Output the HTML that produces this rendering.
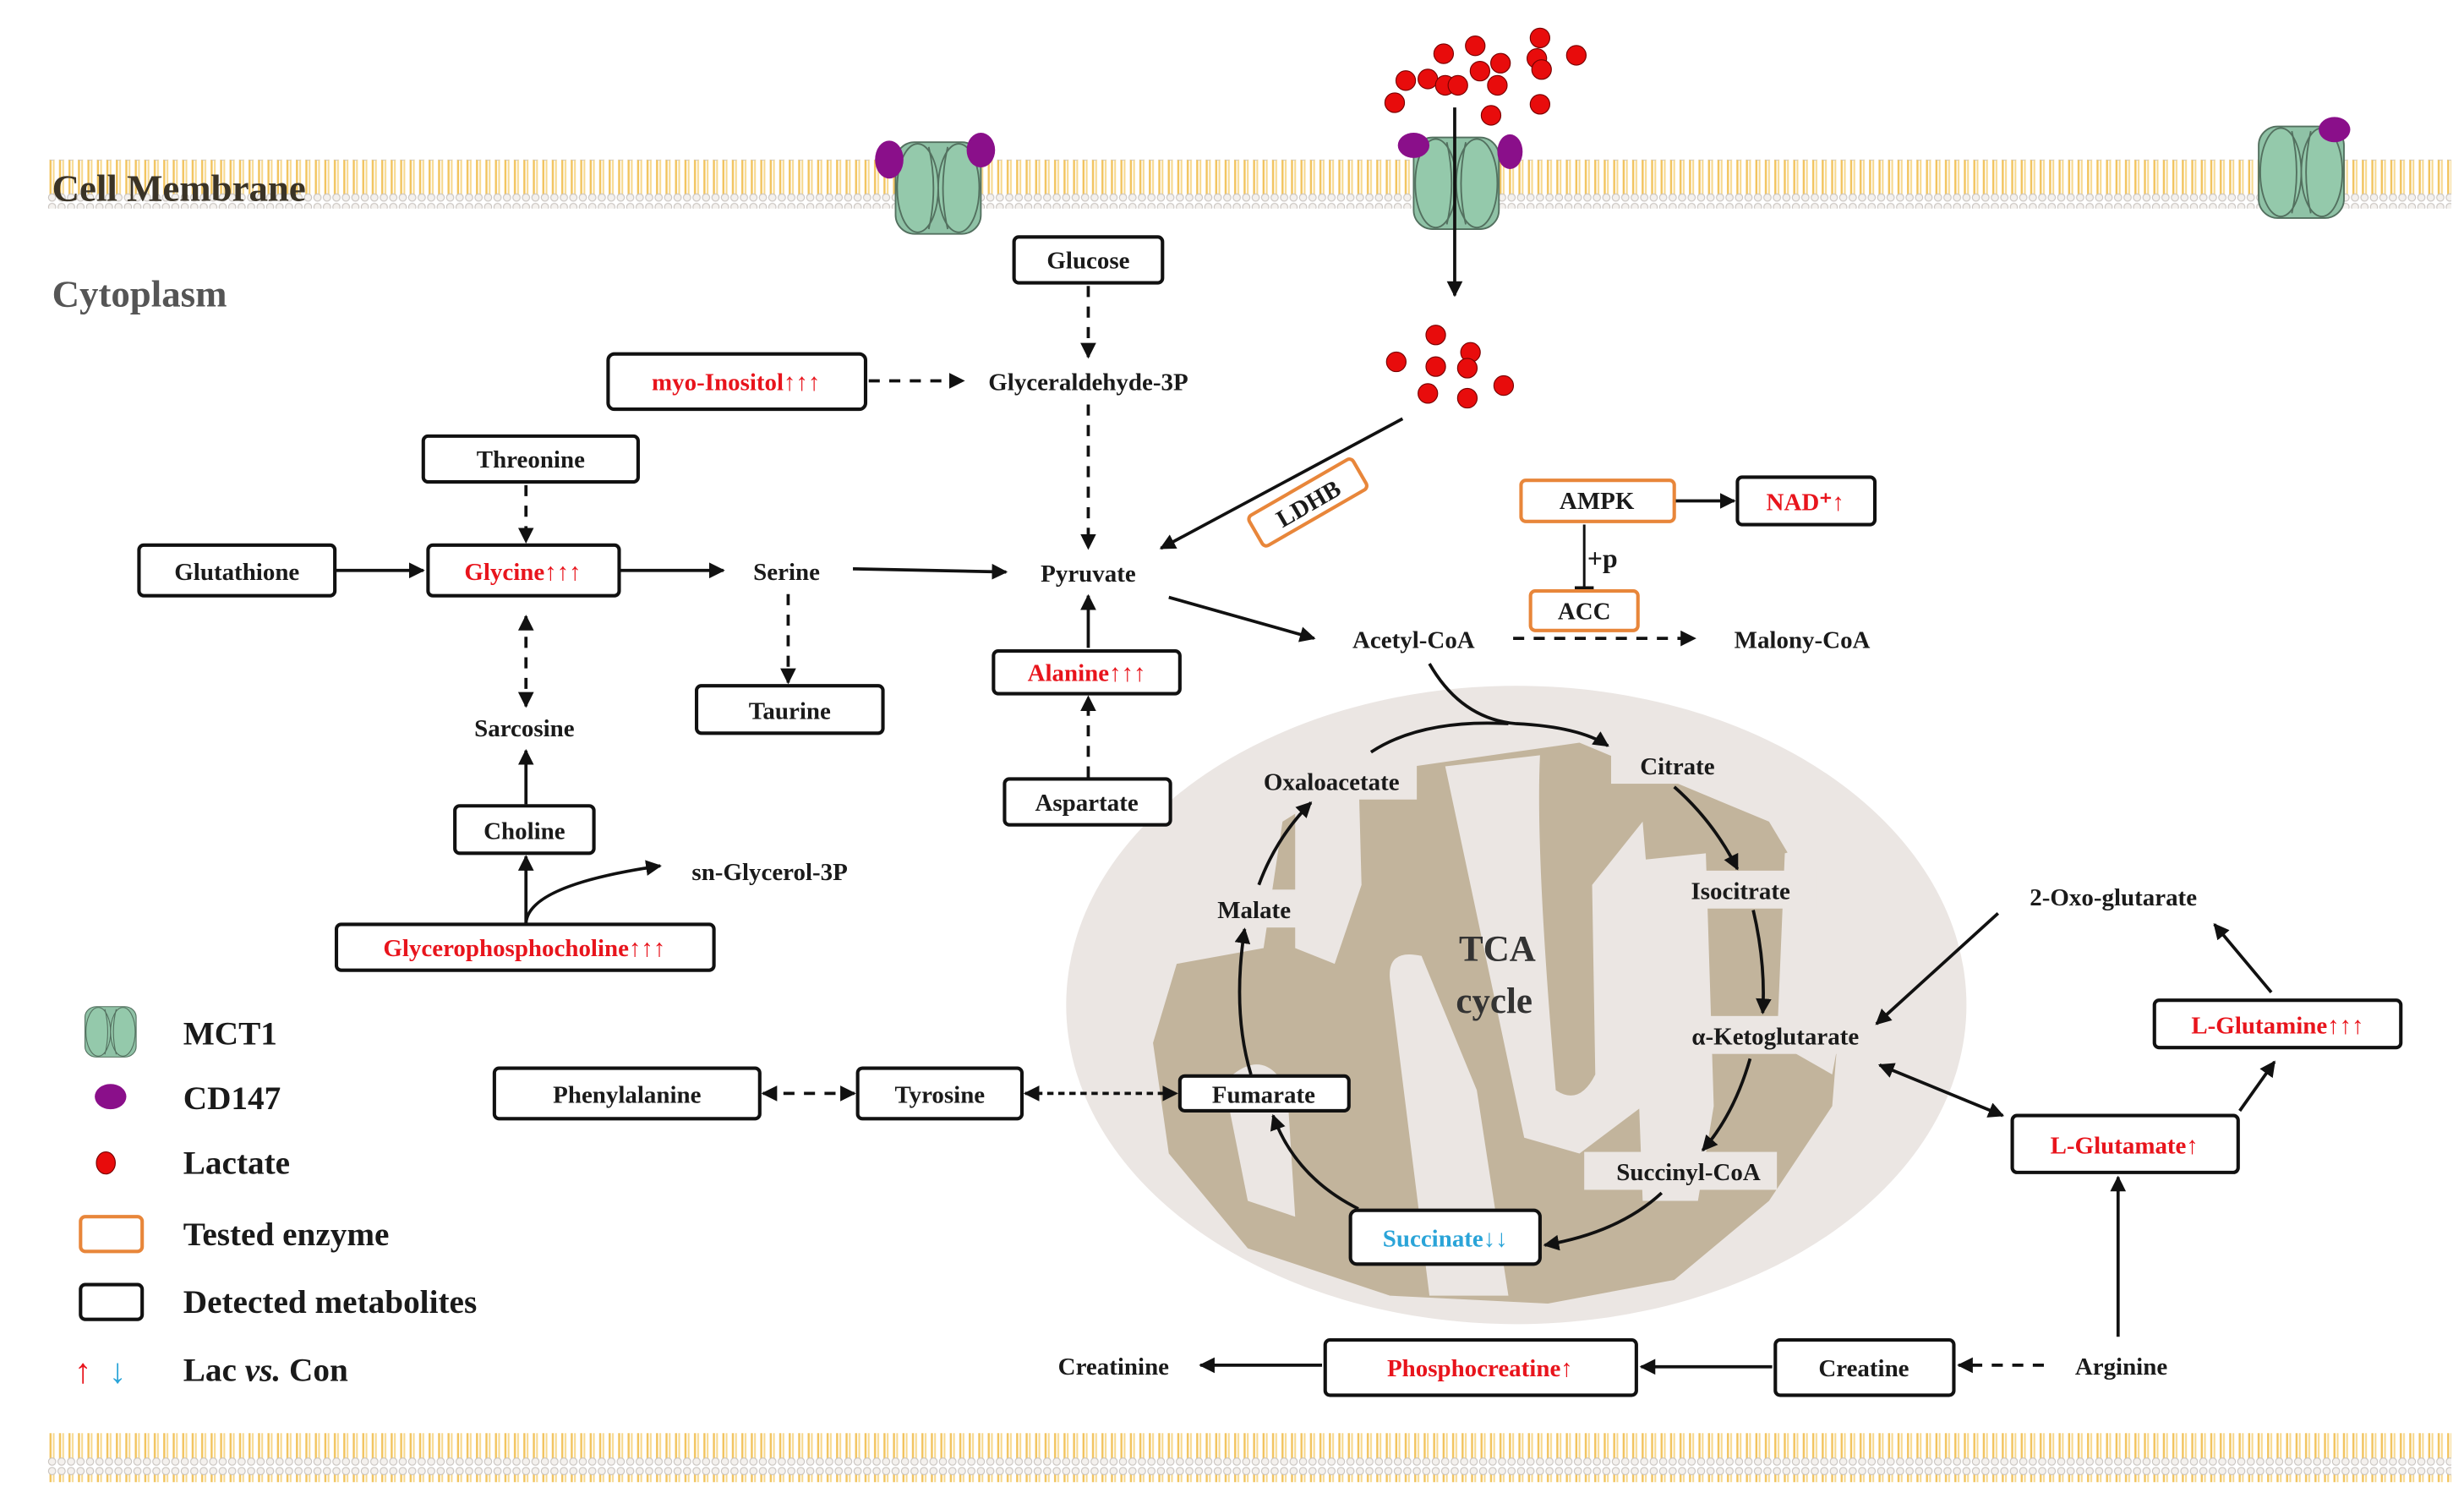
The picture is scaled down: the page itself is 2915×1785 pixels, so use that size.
<!DOCTYPE html>
<html><head><meta charset="utf-8"><style>
html,body{margin:0;padding:0;background:#fff;}
svg{display:block;}
text{font-family:"Liberation Serif",serif;font-weight:bold;}
</style></head><body>
<svg width="2915" height="1785" viewBox="0 0 1560 955" preserveAspectRatio="none" xmlns="http://www.w3.org/2000/svg">
<defs>
<marker id="a" viewBox="0 0 10 10" refX="9" refY="5" markerWidth="5" markerHeight="5" orient="auto-start-reverse"><path d="M0,0L10,5L0,10z" fill="#111"/></marker>
<pattern id="mem" x="0" y="0" width="6" height="32" patternUnits="userSpaceOnUse">
<line x1="2" y1="4" x2="2" y2="28" stroke="#f2c45e" stroke-width="1.3"/>
<line x1="4" y1="4" x2="4" y2="28" stroke="#f7d98e" stroke-width="1.1"/>
<circle cx="3" cy="3" r="2.3" fill="#f4f1ee" stroke="#c9c4c0" stroke-width="0.6"/>
<circle cx="3" cy="29" r="2.3" fill="#f4f1ee" stroke="#c9c4c0" stroke-width="0.6"/>
</pattern>
<g id="ch">
<rect x="-27" y="-29" width="54" height="58" rx="12" fill="#8fc2a6" stroke="#53705f" stroke-width="1"/>
<ellipse cx="-13" cy="0" rx="13" ry="28" fill="#94c9ab" stroke="#53705f" stroke-width="1"/>
<ellipse cx="13" cy="0" rx="13" ry="28" fill="#94c9ab" stroke="#53705f" stroke-width="1"/>
<path d="M-6,-26 Q0,0 -6,26 M6,-26 Q0,0 6,26" fill="none" stroke="#53705f" stroke-width="1"/>
</g>
</defs>
<style>
.b{fill:#fff;stroke:#111;stroke-width:2.2;}
.o{fill:#fff;stroke:#e8863a;stroke-width:2.2;}
.t{font-size:15.5px;fill:#1a1a1a;}
.r{fill:#e8141c;}
.l{stroke:#111;stroke-width:2;fill:none;}
.d{stroke:#111;stroke-width:2;fill:none;stroke-dasharray:7,6;}
</style>

<!-- membranes -->
<rect x="30" y="101" width="1522" height="31" fill="url(#mem)"/>
<rect x="30" y="907" width="1522" height="31" fill="url(#mem)"/>
<text x="33" y="127" style="font-size:24px;fill:#3a3326">Cell Membrane</text>
<text x="33" y="194" style="font-size:24px;fill:#555">Cytoplasm</text>

<!-- channels -->
<use href="#ch" transform="translate(594,119)"/>
<ellipse cx="563" cy="101" rx="9" ry="12" fill="#8a0f8a"/>
<ellipse cx="621" cy="95" rx="9" ry="11" fill="#8a0f8a"/>
<use href="#ch" transform="translate(922,116)"/>
<ellipse cx="895" cy="92" rx="10" ry="8" fill="#8a0f8a"/>
<ellipse cx="956" cy="96" rx="8" ry="11" fill="#8a0f8a"/>
<use href="#ch" transform="translate(1457,109)"/>
<ellipse cx="1478" cy="82" rx="10" ry="8" fill="#8a0f8a"/>

<!-- lactate dots -->
<g fill="#e80c0c" stroke="#700" stroke-width="0.6">
<circle cx="890" cy="51" r="6.2"/><circle cx="904" cy="50" r="6.2"/><circle cx="915" cy="54" r="6.2"/><circle cx="923" cy="54" r="6.2"/>
<circle cx="883" cy="65" r="6.2"/><circle cx="914" cy="34" r="6.2"/><circle cx="934" cy="29" r="6.2"/><circle cx="937" cy="45" r="6.2"/>
<circle cx="950" cy="40" r="6.2"/><circle cx="948" cy="54" r="6.2"/><circle cx="944" cy="73" r="6.2"/><circle cx="975" cy="24" r="6.2"/>
<circle cx="973" cy="37" r="6.2"/><circle cx="976" cy="44" r="6.2"/><circle cx="998" cy="35" r="6.2"/><circle cx="975" cy="66" r="6.2"/>
<circle cx="909" cy="212" r="6.2"/><circle cx="884" cy="229" r="6.2"/><circle cx="909" cy="232" r="6.2"/><circle cx="931" cy="223" r="6.2"/>
<circle cx="929" cy="233" r="6.2"/><circle cx="952" cy="244" r="6.2"/><circle cx="904" cy="249" r="6.2"/><circle cx="929" cy="252" r="6.2"/>
</g>
<line x1="921" y1="68" x2="921" y2="187" class="l" marker-end="url(#a)"/>

<!-- LDHB -->
<line x1="888" y1="265" x2="735" y2="347" class="l" marker-end="url(#a)"/>
<g transform="translate(828,318) rotate(-30)">
<rect x="-38" y="-11" width="76" height="22" rx="3" class="o"/>
<text x="0" y="6" text-anchor="middle" class="t">LDHB</text>
</g>

<!-- mitochondrion -->
<ellipse cx="960" cy="636" rx="285" ry="202" fill="#ebe6e3"/>
<path d="M812,520 L860,490 L1000,470 L1120,520 L1168,600 L1160,700 L1120,760 L1060,810 L980,825 L880,820 L790,790 L740,730 L730,660 L745,610 L800,600 Z" fill="#c2b49c"/>
<g fill="#ebe6e3">
<path d="M880,620 Q878,600 900,605 L935,690 L955,820 L905,820 Z"/>
<path d="M915,485 L975,478 Q972,540 985,690 Q1000,700 1010,680 L1008,560 L1040,520 L1045,580 L1040,700 L1000,730 L965,720 Z"/>
<path d="M1032,545 L1080,540 L1085,700 L1075,760 L1040,760 Z"/>
<path d="M1130,540 L1168,530 L1175,600 L1160,680 L1125,660 Z"/>
<path d="M775,685 Q800,660 815,690 L820,770 L790,760 Z"/>
<path d="M820,500 L860,485 L862,560 L845,610 L820,600 Z"/>
</g>
<text x="948" y="608" text-anchor="middle" style="font-size:23px;fill:#333">TCA</text>
<text x="946" y="641" text-anchor="middle" style="font-size:23px;fill:#333">cycle</text>

<!-- TCA labels with light backgrounds -->
<g fill="#ebe6e3">
<rect x="1020" y="472" width="84" height="24"/><rect x="1058" y="551" width="92" height="24"/>
<rect x="1045" y="643" width="145" height="24"/><rect x="1003" y="729" width="122" height="24"/>
<rect x="760" y="563" width="68" height="24"/><rect x="793" y="482" width="104" height="24"/>
</g>
<text x="1062" y="490" text-anchor="middle" class="t">Citrate</text>
<text x="1102" y="569" text-anchor="middle" class="t">Isocitrate</text>
<text x="1124" y="661" text-anchor="middle" class="t">α-Ketoglutarate</text>
<text x="1069" y="747" text-anchor="middle" class="t">Succinyl-CoA</text>
<text x="794" y="581" text-anchor="middle" class="t">Malate</text>
<text x="843" y="500" text-anchor="middle" class="t">Oxaloacetate</text>
<rect x="747" y="681" width="107" height="22" rx="3" class="b"/>
<text x="800" y="698" text-anchor="middle" class="t">Fumarate</text>
<rect x="855" y="766" width="120" height="34" rx="4" class="b"/>
<text x="915" y="789" text-anchor="middle" class="t" style="fill:#2aa4d8">Succinate↓↓</text>

<!-- TCA arrows -->
<path d="M905,420 Q925,455 960,458 Q1000,460 1018,472" class="l" marker-end="url(#a)"/>
<path d="M868,476 Q900,455 955,458" class="l"/>
<path d="M1060,498 Q1085,520 1100,550" class="l" marker-end="url(#a)"/>
<path d="M1110,576 Q1118,610 1116,641" class="l" marker-end="url(#a)"/>
<path d="M1108,670 Q1098,705 1078,728" class="l" marker-end="url(#a)"/>
<path d="M1052,755 Q1025,780 978,788" class="l" marker-end="url(#a)"/>
<path d="M860,765 Q820,745 806,706" class="l" marker-end="url(#a)"/>
<path d="M792,680 Q780,640 788,588" class="l" marker-end="url(#a)"/>
<path d="M797,560 Q808,530 830,508" class="l" marker-end="url(#a)"/>

<!-- top pathway -->
<rect x="642" y="150" width="94" height="29" rx="3" class="b"/>
<text x="689" y="170" text-anchor="middle" class="t">Glucose</text>
<line x1="689" y1="181" x2="689" y2="226" class="d" marker-end="url(#a)"/>
<text x="689" y="247" text-anchor="middle" class="t">Glyceraldehyde-3P</text>
<line x1="689" y1="256" x2="689" y2="347" class="d" marker-end="url(#a)"/>
<text x="689" y="368" text-anchor="middle" class="t">Pyruvate</text>

<rect x="385" y="224" width="163" height="35" rx="4" class="b"/>
<text x="466" y="247" text-anchor="middle" class="t r">myo-Inositol↑↑↑</text>
<line x1="550" y1="241" x2="610" y2="241" class="d" marker-end="url(#a)"/>

<rect x="268" y="276" width="136" height="29" rx="3" class="b"/>
<text x="336" y="296" text-anchor="middle" class="t">Threonine</text>
<line x1="333" y1="307" x2="333" y2="343" class="d" marker-end="url(#a)"/>
<rect x="88" y="345" width="124" height="32" rx="3" class="b"/>
<text x="150" y="367" text-anchor="middle" class="t">Glutathione</text>
<line x1="213" y1="361" x2="268" y2="361" class="l" marker-end="url(#a)"/>
<rect x="271" y="345" width="121" height="32" rx="3" class="b"/>
<text x="331" y="367" text-anchor="middle" class="t r">Glycine↑↑↑</text>
<line x1="393" y1="361" x2="458" y2="361" class="l" marker-end="url(#a)"/>
<text x="498" y="367" text-anchor="middle" class="t">Serine</text>
<line x1="540" y1="360" x2="637" y2="362" class="l" marker-end="url(#a)"/>
<line x1="499" y1="376" x2="499" y2="432" class="d" marker-end="url(#a)"/>
<rect x="441" y="434" width="118" height="30" rx="3" class="b"/>
<text x="500" y="455" text-anchor="middle" class="t">Taurine</text>
<line x1="333" y1="390" x2="333" y2="447" class="d" marker-start="url(#a)" marker-end="url(#a)"/>
<text x="332" y="466" text-anchor="middle" class="t">Sarcosine</text>
<line x1="333" y1="509" x2="333" y2="475" class="l" marker-end="url(#a)"/>
<rect x="288" y="510" width="88" height="30" rx="3" class="b"/>
<text x="332" y="531" text-anchor="middle" class="t">Choline</text>
<line x1="333" y1="584" x2="333" y2="542" class="l" marker-end="url(#a)"/>
<path d="M333,584 Q335,560 418,548" class="l" marker-end="url(#a)"/>
<text x="438" y="557" class="t">sn-Glycerol-3P</text>
<rect x="213" y="585" width="239" height="29" rx="3" class="b"/>
<text x="332" y="605" text-anchor="middle" class="t r">Glycerophosphocholine↑↑↑</text>

<rect x="629" y="412" width="118" height="27" rx="3" class="b"/>
<text x="688" y="431" text-anchor="middle" class="t r">Alanine↑↑↑</text>
<line x1="689" y1="410" x2="689" y2="377" class="l" marker-end="url(#a)"/>
<line x1="689" y1="492" x2="689" y2="441" class="d" marker-end="url(#a)"/>
<rect x="636" y="493" width="105" height="29" rx="3" class="b"/>
<text x="688" y="513" text-anchor="middle" class="t">Aspartate</text>

<line x1="740" y1="378" x2="832" y2="404" class="l" marker-end="url(#a)"/>
<text x="895" y="410" text-anchor="middle" class="t">Acetyl-CoA</text>
<line x1="958" y1="404" x2="1073" y2="404" class="d" marker-end="url(#a)"/>
<text x="1141" y="410" text-anchor="middle" class="t">Malony-CoA</text>

<rect x="963" y="304" width="97" height="26" rx="3" class="o"/>
<text x="1011" y="322" text-anchor="middle" class="t">AMPK</text>
<line x1="1061" y1="317" x2="1098" y2="317" class="l" marker-end="url(#a)"/>
<rect x="1100" y="302" width="87" height="30" rx="3" class="b"/>
<text x="1143" y="323" text-anchor="middle" class="t r">NAD⁺↑</text>
<line x1="1003" y1="332" x2="1003" y2="372" stroke="#111" stroke-width="1.6"/>
<line x1="997" y1="372" x2="1009" y2="372" stroke="#111" stroke-width="2"/>
<text x="1005" y="359" class="t" style="font-size:17px">+p</text>
<rect x="969" y="374" width="68" height="25" rx="3" class="o"/>
<text x="1003" y="392" text-anchor="middle" class="t">ACC</text>

<!-- aromatic -->
<rect x="313" y="676" width="168" height="32" rx="3" class="b"/>
<text x="397" y="698" text-anchor="middle" class="t">Phenylalanine</text>
<line x1="483" y1="692" x2="541" y2="692" class="d" marker-start="url(#a)" marker-end="url(#a)"/>
<rect x="543" y="676" width="104" height="32" rx="3" class="b"/>
<text x="595" y="698" text-anchor="middle" class="t">Tyrosine</text>
<line x1="649" y1="692" x2="745" y2="692" class="d" style="stroke-dasharray:4,3" marker-start="url(#a)" marker-end="url(#a)"/>

<!-- glutamine side -->
<text x="1338" y="573" text-anchor="middle" class="t">2-Oxo-glutarate</text>
<line x1="1265" y1="578" x2="1188" y2="648" class="l" marker-end="url(#a)"/>
<rect x="1364" y="633" width="156" height="30" rx="3" class="b"/>
<text x="1442" y="654" text-anchor="middle" class="t r">L-Glutamine↑↑↑</text>
<line x1="1438" y1="628" x2="1402" y2="585" class="l" marker-end="url(#a)"/>
<rect x="1274" y="706" width="143" height="36" rx="3" class="b"/>
<text x="1345" y="730" text-anchor="middle" class="t r">L-Glutamate↑</text>
<line x1="1418" y1="703" x2="1440" y2="672" class="l" marker-end="url(#a)"/>
<line x1="1190" y1="674" x2="1268" y2="706" class="l" marker-start="url(#a)" marker-end="url(#a)"/>
<line x1="1341" y1="846" x2="1341" y2="745" class="l" marker-end="url(#a)"/>
<text x="1343" y="870" text-anchor="middle" class="t">Arginine</text>
<line x1="1294" y1="864" x2="1240" y2="864" class="d" marker-end="url(#a)"/>
<rect x="1124" y="848" width="113" height="35" rx="3" class="b"/>
<text x="1180" y="871" text-anchor="middle" class="t">Creatine</text>
<line x1="1122" y1="865" x2="1039" y2="865" class="l" marker-end="url(#a)"/>
<rect x="839" y="848" width="197" height="35" rx="3" class="b"/>
<text x="937" y="871" text-anchor="middle" class="t r">Phosphocreatine↑</text>
<line x1="837" y1="864" x2="760" y2="864" class="l" marker-end="url(#a)"/>
<text x="705" y="870" text-anchor="middle" class="t">Creatinine</text>

<!-- legend -->
<use href="#ch" transform="translate(70,653) scale(0.6,0.55)"/>
<text x="116" y="661" style="font-size:21px;fill:#1a1a1a">MCT1</text>
<ellipse cx="70" cy="694" rx="10" ry="8" fill="#8a0f8a"/>
<text x="116" y="702" style="font-size:21px;fill:#1a1a1a">CD147</text>
<ellipse cx="67" cy="736" rx="6" ry="7" fill="#e80c0c" stroke="#700" stroke-width="0.6"/>
<text x="116" y="743" style="font-size:21px;fill:#1a1a1a">Lactate</text>
<rect x="51" y="770" width="39" height="22" rx="3" class="o"/>
<text x="116" y="788" style="font-size:21px;fill:#1a1a1a">Tested enzyme</text>
<rect x="51" y="813" width="39" height="22" rx="3" class="b"/>
<text x="116" y="831" style="font-size:21px;fill:#1a1a1a">Detected metabolites</text>
<text x="47" y="875" style="font-size:22px;fill:#e8141c">↑</text>
<text x="69" y="875" style="font-size:22px;fill:#2aa4d8">↓</text>
<text x="116" y="874" style="font-size:21px;fill:#1a1a1a">Lac <tspan font-style="italic">vs.</tspan>  Con</text>
</svg>
</body></html>
